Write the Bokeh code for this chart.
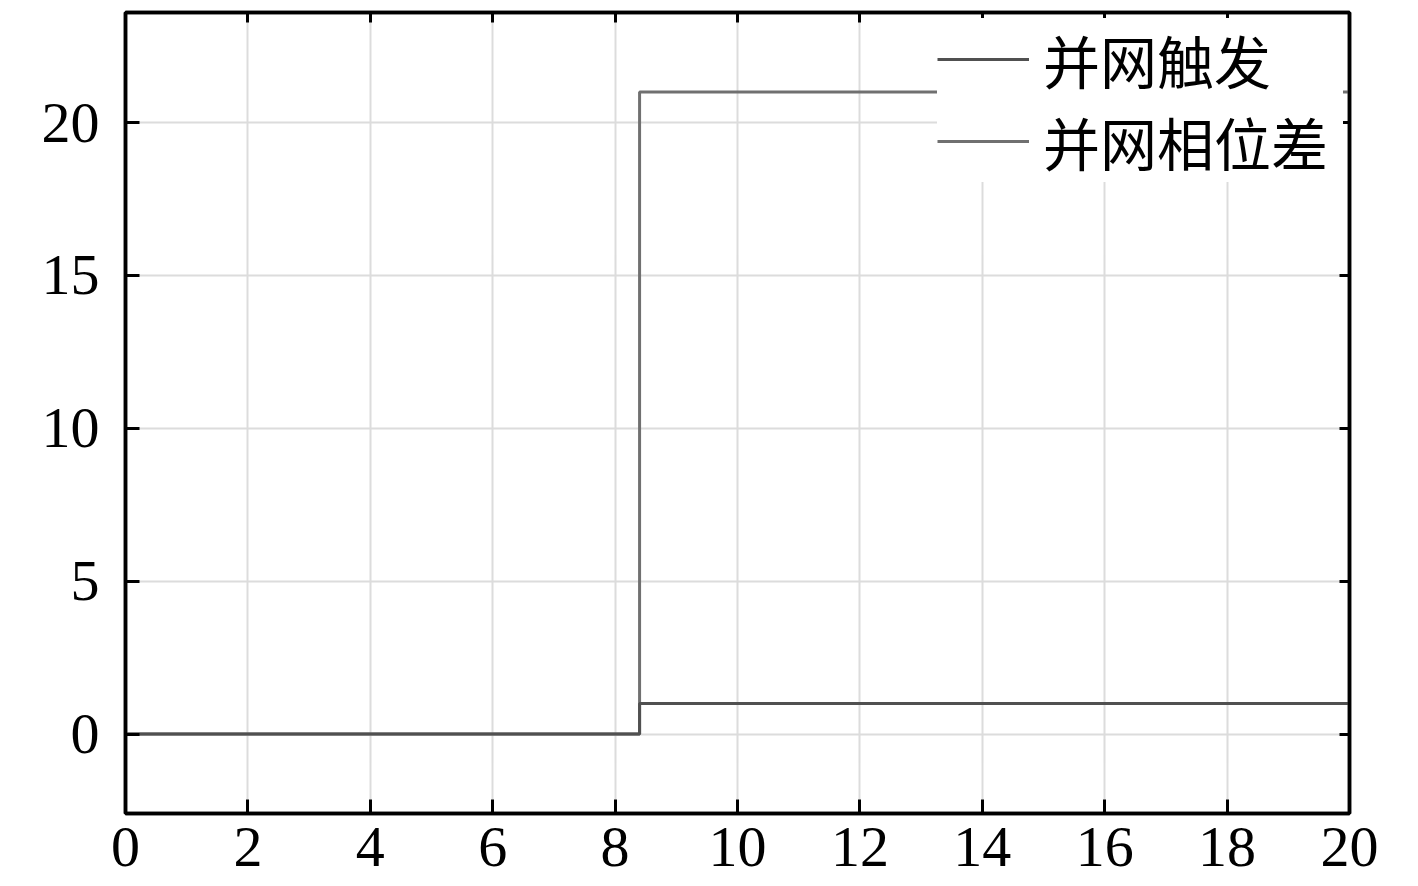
from bokeh.plotting import figure
from bokeh.models import Range1d, LinearAxis, FixedTicker, Legend, LegendItem, CustomLabelingPolicy
from bokeh.embed import file_html
from bokeh.resources import INLINE

# data
t = [0.0, 8.4, 20.0]
trigger = [0, 1, 1]          # 并网触发
phase_diff = [0, 21, 21]     # 并网相位差
x_ticks = [0, 2, 4, 6, 8, 10, 12, 14, 16, 18, 20]
y_ticks = [0, 5, 10, 15, 20]
names = ["并网触发", "并网相位差"]

p = figure(width=1416, height=884, output_backend="svg", toolbar_location=None,
           x_range=Range1d(0, 20), y_range=Range1d(-2.6, 23.6),
           min_border_left=125, min_border_top=12, min_border_right=67, min_border_bottom=71)

p.outline_line_color = "black"
p.outline_line_width = 3.5
p.background_fill_color = "white"

r_phase = p.step(t, phase_diff, mode="after", line_color="#707070", line_width=3)
r_trig = p.step(t, trigger, mode="after", line_color="#505050", line_width=3)

serif = "Liberation Serif"
for ax in [p.xaxis[0], p.yaxis[0]]:
    ax.axis_line_color = "black"
    ax.axis_line_width = 3.5
    ax.major_tick_in = 14
    ax.major_tick_out = 0
    ax.major_tick_line_width = 3
    ax.major_tick_line_color = "black"
    ax.minor_tick_line_color = None
    ax.major_label_text_font = serif
    ax.major_label_text_font_size = "58px"
    ax.major_label_text_color = "black"
p.xaxis[0].ticker = FixedTicker(ticks=x_ticks)
p.yaxis[0].ticker = FixedTicker(ticks=y_ticks)
p.xaxis[0].major_label_standoff = 14
p.yaxis[0].major_label_standoff = 26

# mirrored ticks (no labels)
hide_all = CustomLabelingPolicy(code="for (const i of Array.from(indices)) { indices.unset(i) }\nreturn indices")
top = LinearAxis(ticker=FixedTicker(ticks=x_ticks), major_label_policy=hide_all)
right = LinearAxis(ticker=FixedTicker(ticks=y_ticks), major_label_policy=hide_all)
for ax in [top, right]:
    ax.axis_line_color = "black"
    ax.axis_line_width = 3.5
    ax.major_tick_in = 10
    ax.major_tick_out = 0
    ax.major_tick_line_width = 3
    ax.minor_tick_line_color = None
    ax.major_label_text_font_size = "0px"
    ax.major_label_standoff = 0
p.add_layout(top, "above")
p.add_layout(right, "right")

p.xgrid.ticker = FixedTicker(ticks=x_ticks)
p.ygrid.ticker = FixedTicker(ticks=y_ticks)
p.grid.grid_line_color = "#dcdcdc"
p.grid.grid_line_width = 2

legend = Legend(items=[LegendItem(label=names[0], renderers=[r_trig]),
                       LegendItem(label=names[1], renderers=[r_phase])],
                location="top_right", orientation="vertical")
legend.label_text_font = "Noto Sans CJK SC"
legend.label_text_font_size = "57px"
legend.label_text_color = "black"
legend.glyph_width = 92
legend.glyph_height = 70
legend.label_height = 70
legend.label_width = 300
legend.spacing = -10
legend.label_standoff = 14
legend.padding = 6
legend.margin = 6
legend.border_line_color = None
legend.background_fill_color = "white"
legend.background_fill_alpha = 1
p.add_layout(legend, "center")

open("out.html", "w").write(file_html(p, INLINE))
